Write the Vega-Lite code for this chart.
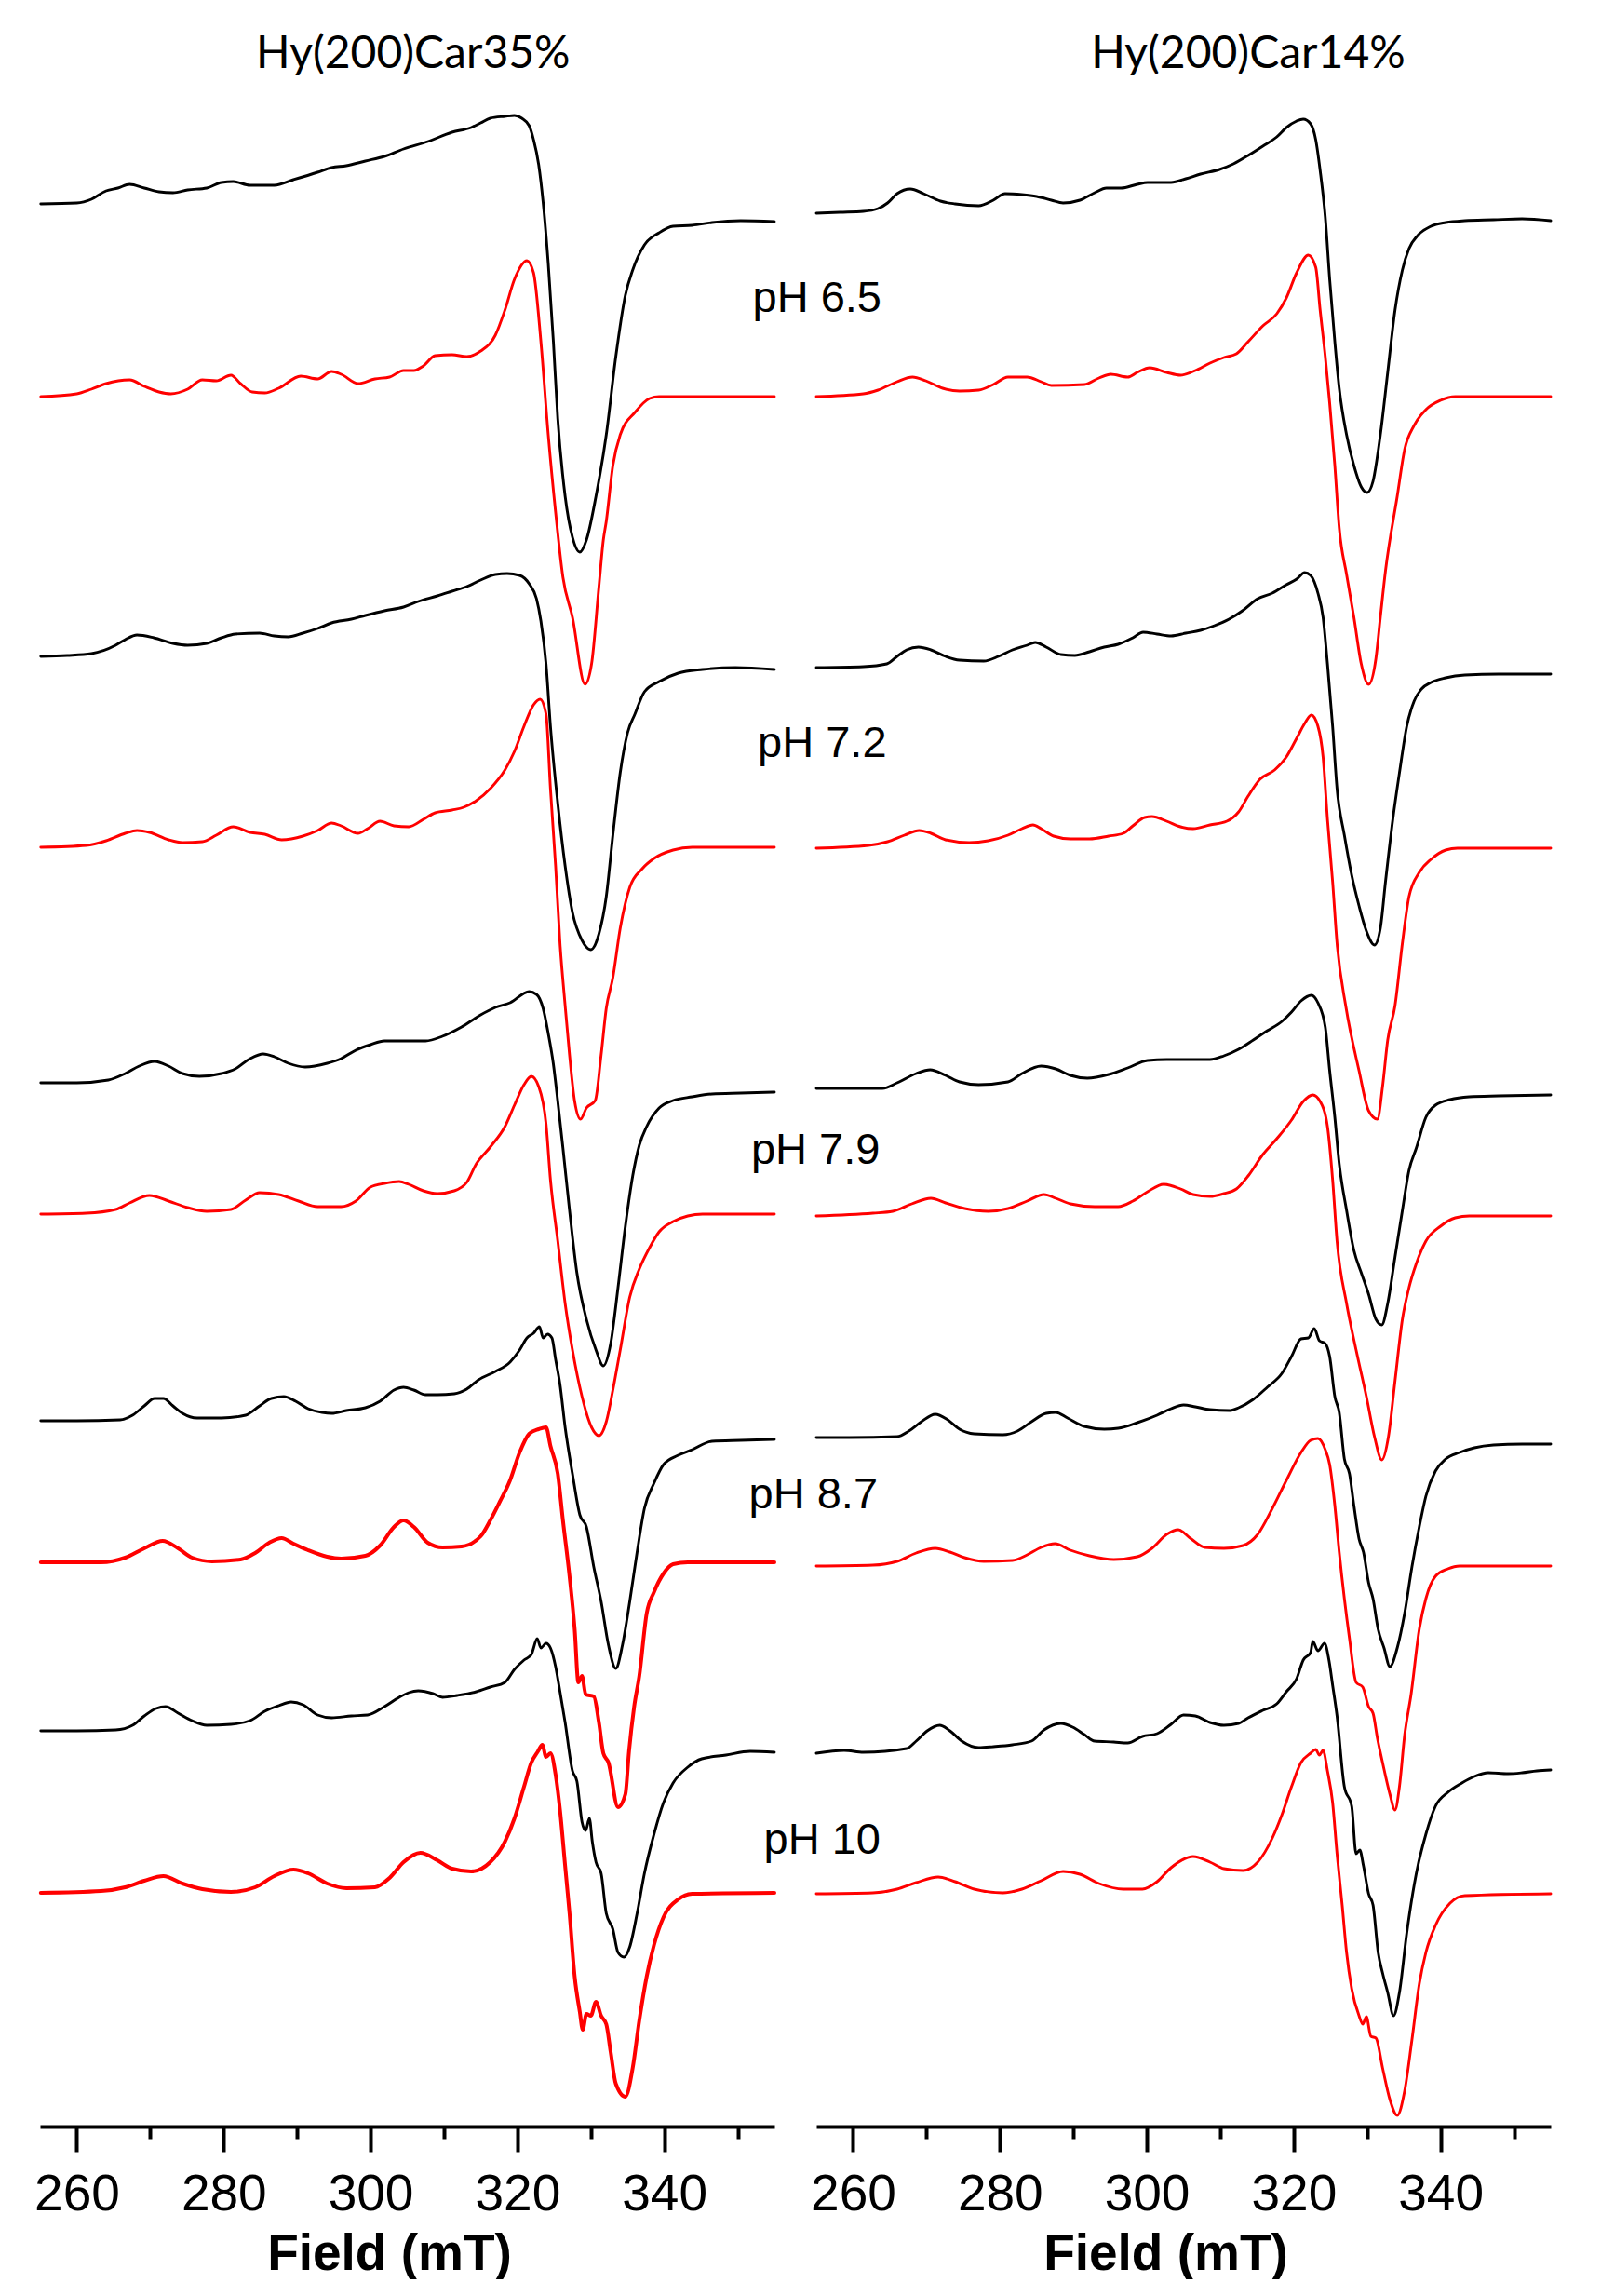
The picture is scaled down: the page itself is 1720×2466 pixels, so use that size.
{
"$schema":"https://vega.github.io/schema/vega-lite/v6.json",
"background":"white",
"padding":{"left":36,"top":0,"right":0,"bottom":0},
"autosize":{"type":"pad"},
"bounds":"flush",
"spacing":45,
"data":{"values":[
{"panel":"L","trace":"L1","kind":"exp","x":[255.1,260.0,262.0,264.0,265.6,267.2,269.2,271.2,273.1,275.1,277.7,279.7,281.3,283.6,286.9,289.5,292.8,294.7,296.7,299.3,301.9,304.5,307.8,311.1,313.7,315.0,316.3,318.3,319.6,320.6,321.6,322.2,322.9,323.5,324.2,324.9,325.5,326.5,327.5,328.5,329.4,330.7,332.1,333.4,334.7,335.7,337.3,339.3,341.2,343.8,346.5,350.4,355.0],"y":[2065,2066,2070,2079,2082,2086,2082,2078,2077,2080,2082,2088,2089,2085,2085,2091,2099,2104,2106,2111,2116,2124,2132,2142,2147,2152,2157,2159,2160,2157,2149,2134,2107,2067,2001,1917,1834,1751,1707,1691,1704,1751,1817,1901,1967,1994,2021,2034,2041,2042,2045,2047,2046]},
{"panel":"L","trace":"L2","kind":"sim","x":[255.1,260.0,262.0,264.0,267.2,269.2,271.2,272.8,275.1,277.1,279.0,281.0,282.3,283.9,285.6,287.5,290.5,292.8,294.7,296.0,298.3,300.6,302.6,304.5,305.9,307.2,308.8,311.1,313.1,315.0,317.0,318.3,319.6,321.3,322.2,323.2,324.2,325.2,326.2,327.5,329.2,330.1,331.1,331.7,332.1,333.0,334.0,336.0,338.0,339.3,355.0],"y":[1858,1861,1866,1872,1876,1869,1863,1861,1866,1876,1875,1881,1872,1863,1862,1867,1880,1877,1885,1882,1872,1877,1879,1886,1886,1891,1902,1903,1901,1907,1924,1951,1984,2004,1991,1917,1817,1734,1664,1621,1549,1571,1654,1704,1724,1784,1817,1841,1856,1858,1858]},
{"panel":"L","trace":"L3","kind":"exp","x":[255.1,258.7,262.0,265.3,266.6,268.2,270.5,273.1,275.1,277.7,279.7,281.6,284.9,286.9,288.8,290.8,292.8,294.7,297.4,299.3,301.9,304.5,306.5,309.1,311.1,313.1,315.0,317.0,318.6,320.3,321.6,322.6,323.2,323.9,324.5,325.5,326.5,327.5,328.8,330.0,331.1,332.1,333.0,334.0,335.0,336.0,337.3,339.3,341.9,345.2,349.7,355.0],"y":[1579,1580,1582,1591,1597,1602,1599,1593,1591,1593,1599,1603,1604,1601,1600,1604,1609,1615,1619,1623,1628,1632,1638,1644,1649,1654,1661,1667,1668,1666,1657,1641,1617,1571,1504,1421,1354,1304,1274,1264,1281,1321,1387,1454,1497,1517,1541,1552,1561,1565,1567,1565]},
{"panel":"L","trace":"L4","kind":"sim","x":[255.1,261.3,264.0,266.6,268.2,269.9,272.5,274.4,277.1,279.0,281.3,283.6,285.6,287.9,290.8,292.8,294.7,296.0,298.3,299.6,301.3,303.2,305.2,307.2,308.8,311.1,312.7,314.4,316.3,318.3,319.6,320.9,322.2,323.1,323.9,324.5,325.2,325.8,326.5,327.1,327.8,328.6,329.4,330.6,331.4,332.1,333.0,334.0,335.3,337.0,338.6,341.2,343.8,355.0],"y":[1374,1376,1381,1389,1392,1390,1382,1379,1380,1387,1396,1390,1388,1382,1386,1392,1400,1397,1389,1394,1402,1397,1396,1404,1411,1414,1417,1424,1437,1457,1477,1504,1527,1533,1517,1437,1354,1271,1204,1151,1101,1082,1094,1102,1151,1201,1234,1287,1331,1351,1362,1371,1374,1374]},
{"panel":"L","trace":"L5","kind":"exp","x":[255.1,260.0,264.3,266.6,268.5,270.6,272.5,274.4,276.7,279.7,281.6,283.6,285.4,286.9,288.8,291.1,294.1,296.0,298.0,300.0,301.9,307.5,309.8,312.4,315.0,317.0,319.0,321.6,322.6,323.5,324.2,324.9,325.5,326.2,327.1,328.1,329.4,330.7,331.7,332.7,333.7,334.7,335.7,336.6,337.6,339.3,341.2,343.8,346.5,350.4,355.0],"y":[1121,1121,1124,1131,1139,1144,1139,1131,1128,1131,1136,1147,1152,1149,1142,1138,1142,1147,1156,1162,1166,1166,1171,1181,1194,1202,1207,1219,1216,1201,1174,1141,1101,1051,984,917,867,834,817,841,901,967,1021,1054,1074,1094,1102,1106,1109,1110,1111]},
{"panel":"L","trace":"L6","kind":"sim","x":[255.1,261.3,265.3,267.2,269.9,272.5,275.1,277.7,281.0,283.0,284.9,287.5,290.2,292.8,296.0,298.0,300.0,301.9,303.9,305.2,307.2,309.1,311.4,313.1,314.4,316.3,318.3,319.6,320.9,321.9,322.9,323.9,324.5,325.5,326.5,327.5,328.8,330.1,331.1,332.1,333.0,334.0,335.3,336.6,338.0,339.3,341.2,343.2,345.2,355.0],"y":[980,981,985,992,1000,994,987,983,985,995,1003,1001,994,988,988,994,1009,1013,1015,1012,1005,1002,1005,1014,1034,1052,1074,1097,1119,1128,1117,1077,1017,951,884,834,784,751,742,757,791,834,891,921,944,961,972,978,980,980]},
{"panel":"L","trace":"L7","kind":"exp","x":[255.1,260.0,265.9,267.6,269.2,270.6,271.8,273.1,274.4,276.4,279.7,283.0,284.9,286.5,288.2,289.8,291.5,293.4,294.7,296.7,299.3,301.3,303.2,304.5,305.9,307.5,309.1,311.4,313.1,314.7,317.0,319.0,320.3,321.3,322.2,323.0,323.5,324.1,324.7,325.2,325.8,326.5,327.5,328.5,329.4,330.4,331.4,332.4,333.4,334.3,335.3,336.3,337.3,338.6,339.9,341.9,343.8,346.5,350.4,355.0],"y":[758,758,759,764,774,782,782,774,766,761,761,764,774,782,784,779,771,767,766,769,772,779,791,794,791,786,786,787,792,802,811,821,834,847,852,859,847,851,847,824,797,751,701,657,644,601,564,517,492,517,564,617,664,691,711,721,727,736,737,738]},
{"panel":"L","trace":"L8","kind":"sim","x":[255.1,263.3,266.6,269.2,271.7,273.8,275.7,278.4,282.3,284.3,286.2,287.9,289.5,291.5,294.1,296.0,299.3,301.3,303.2,304.5,305.9,307.8,309.8,312.4,315.0,316.3,317.6,319.0,320.3,321.6,322.9,323.9,324.5,325.5,326.2,327.1,327.8,328.3,328.8,329.3,330.4,331.1,331.7,332.4,333.7,334.7,335.2,335.9,336.6,337.6,338.6,339.9,341.2,343.2,355.0],"y":[606,606,611,621,629,621,611,607,609,616,627,632,626,619,612,610,613,624,644,651,644,627,622,623,634,651,671,694,724,744,749,751,731,701,651,591,534,477,484,464,462,434,401,391,343,357,403,451,484,551,574,594,604,606,606]},
{"panel":"L","trace":"L9","kind":"exp","x":[255.1,260.0,265.3,267.6,269.2,270.8,272.1,273.8,275.7,277.7,281.0,283.6,285.6,287.5,289.2,290.8,292.8,294.7,297.4,299.6,301.9,303.9,305.2,306.5,308.5,309.8,311.8,314.4,316.3,318.3,319.6,320.9,321.9,322.7,323.2,323.9,324.5,325.2,325.8,326.5,327.5,328.1,328.8,329.3,329.8,330.2,330.7,331.4,332.1,333.0,333.7,334.5,335.3,336.3,337.3,338.6,339.9,341.2,343.2,345.1,348.4,351.7,355.0],"y":[425,425,426,431,441,449,451,444,436,431,432,436,446,452,456,453,442,439,441,442,451,461,466,468,465,461,463,467,472,477,491,501,507,524,514,519,514,494,467,434,382,371,327,318,331,306,284,272,229,212,187,182,193,229,272,314,348,369,386,395,399,403,402]},
{"panel":"L","trace":"L10","kind":"sim","x":[255.1,263.3,266.6,269.2,271.8,274.4,277.1,281.0,284.3,286.9,289.5,291.5,294.1,296.7,300.6,302.6,304.5,306.8,309.1,311.1,313.7,316.3,318.3,319.6,320.9,321.9,322.8,323.4,323.9,324.5,325.2,325.8,326.5,327.1,327.8,328.5,328.9,329.4,330.0,330.7,331.4,332.1,332.7,333.4,334.7,335.7,336.6,337.6,338.6,339.9,341.9,343.8,355.0],"y":[251,253,257,264,269,261,255,252,257,269,276,272,261,256,257,267,284,294,286,277,274,284,306,331,365,391,403,410,397,401,378,340,280,229,161,123,104,121,119,134,119,110,80,46,32,63,114,161,195,225,244,250,251]},
{"panel":"R","trace":"R1","kind":"exp","x":[255.0,258.2,261.4,263.4,264.7,266.0,267.8,269.6,271.9,273.9,277.1,279.1,280.7,283.0,285.0,287.0,288.6,290.9,292.9,294.5,296.5,298.7,300.1,303.3,305.3,307.3,309.9,311.8,313.8,315.8,317.7,319.0,320.4,321.3,322.3,323.0,323.6,324.3,324.9,325.6,326.2,327.2,328.2,329.2,330.0,330.8,331.8,332.8,333.8,334.8,335.7,337.0,338.7,340.7,343.3,347.2,351.1,355.0],"y":[2055,2056,2057,2060,2066,2076,2081,2076,2068,2065,2063,2069,2076,2075,2073,2069,2066,2069,2077,2082,2082,2086,2088,2088,2092,2097,2102,2108,2117,2127,2137,2147,2154,2156,2151,2134,2101,2051,1984,1917,1867,1817,1784,1761,1755,1767,1817,1884,1951,1994,2017,2032,2041,2045,2047,2048,2049,2047]},
{"panel":"R","trace":"R2","kind":"sim","x":[255.0,261.4,263.4,266.0,268.1,269.9,272.2,274.5,277.1,279.1,281.1,283.7,285.6,287.0,291.5,293.5,295.1,297.4,298.7,300.4,302.7,304.6,306.6,308.6,310.5,312.2,313.8,315.8,317.7,319.0,320.4,322.0,323.0,323.6,324.3,324.9,325.6,326.2,327.2,328.2,329.2,330.2,331.2,331.8,332.5,334.1,335.1,336.4,338.0,340.0,342.0,355.0],"y":[1858,1861,1865,1874,1879,1875,1867,1864,1865,1871,1879,1879,1874,1870,1871,1878,1882,1879,1884,1889,1884,1881,1886,1894,1900,1904,1917,1934,1947,1964,1991,2010,1997,1951,1901,1851,1784,1717,1667,1621,1571,1549,1577,1621,1671,1751,1801,1827,1844,1854,1858,1858]},
{"panel":"R","trace":"R3","kind":"exp","x":[255.0,261.4,264.6,266.0,267.3,268.9,270.6,272.6,274.5,277.8,279.8,281.7,283.7,284.8,286.3,288.3,290.2,292.2,294.2,296.1,298.1,299.5,301.4,303.3,305.3,307.3,309.2,311.2,313.2,315.1,317.1,319.0,320.4,321.5,322.3,323.3,324.0,324.6,325.3,325.9,326.9,327.9,328.9,329.9,331.0,331.8,332.5,333.5,334.4,335.4,336.4,337.4,338.7,340.7,343.3,347.9,355.0],"y":[1567,1568,1571,1579,1586,1589,1586,1579,1575,1574,1579,1586,1591,1594,1589,1581,1580,1584,1589,1592,1599,1605,1603,1601,1604,1607,1612,1619,1629,1641,1647,1656,1662,1669,1666,1647,1621,1571,1504,1437,1387,1344,1311,1284,1269,1287,1337,1404,1454,1504,1531,1544,1551,1556,1559,1560,1560]},
{"panel":"R","trace":"R4","kind":"sim","x":[255.0,262.1,264.7,267.0,269.0,270.6,272.6,275.8,278.4,281.1,283.0,284.5,285.6,287.3,289.6,292.2,294.8,296.8,298.1,299.7,300.7,302.7,304.6,306.3,308.6,310.9,312.5,313.8,315.4,317.4,319.0,320.4,321.5,322.4,323.3,324.0,324.6,325.3,325.9,327.1,328.9,330.2,331.4,332.1,332.8,333.8,334.8,335.7,337.1,338.7,340.7,342.3,355.0],"y":[1373,1376,1380,1387,1392,1389,1382,1379,1381,1387,1394,1398,1394,1386,1383,1383,1386,1389,1397,1406,1407,1402,1396,1394,1398,1402,1412,1429,1447,1457,1471,1491,1507,1516,1504,1471,1404,1337,1271,1203,1134,1091,1082,1117,1167,1204,1271,1321,1347,1361,1371,1373,1373]},
{"panel":"R","trace":"R5","kind":"exp","x":[255.0,264.0,266.0,268.6,270.5,272.6,274.5,277.1,281.1,283.0,285.6,287.6,289.6,291.9,294.8,297.4,300.1,302.7,308.6,310.5,312.5,314.5,316.4,318.4,319.7,321.0,322.4,323.3,324.3,324.9,325.6,326.2,327.2,328.2,329.2,330.2,331.2,332.0,332.8,333.8,334.8,335.7,336.7,338.0,339.3,341.3,343.9,347.9,355.0],"y":[1115,1115,1121,1131,1135,1129,1122,1119,1122,1131,1139,1136,1129,1126,1130,1137,1145,1146,1146,1150,1157,1167,1177,1187,1197,1209,1215,1207,1181,1134,1084,1034,984,941,917,894,867,861,884,934,984,1027,1051,1084,1097,1103,1106,1107,1108]},
{"panel":"R","trace":"R6","kind":"sim","x":[255.0,262.7,265.4,268.0,270.6,272.6,275.2,278.4,281.1,283.7,286.0,287.6,289.6,292.9,296.1,298.1,300.1,302.3,304.6,306.3,308.6,310.5,312.2,313.8,315.8,317.7,319.7,321.3,322.6,323.6,324.6,325.3,325.9,327.2,328.5,329.9,331.0,332.0,332.9,333.8,334.8,335.7,336.7,338.0,340.0,342.0,343.9,355.0],"y":[978,981,983,991,997,992,986,983,986,994,1001,997,991,988,988,994,1004,1012,1007,1001,999,1002,1007,1021,1044,1061,1081,1101,1108,1101,1074,1017,951,884,834,784,741,716,741,801,867,901,927,951,967,976,978,978]},
{"panel":"R","trace":"R7","kind":"exp","x":[255.0,259.5,266.0,267.6,269.3,271.2,272.9,274.5,276.5,280.4,282.4,284.3,286.3,287.6,289.2,291.5,294.2,296.1,298.7,301.4,303.3,305.0,306.6,308.6,311.2,312.5,314.5,316.4,318.4,319.7,321.0,322.0,322.8,323.5,324.3,324.9,325.6,326.2,326.9,327.6,328.2,328.9,329.5,330.2,330.8,331.5,332.3,333.1,334.1,335.1,336.1,337.1,338.0,339.3,340.7,342.6,344.6,347.2,351.1,355.0],"y":[740,740,741,747,757,765,759,749,744,743,747,757,766,767,761,752,749,750,756,764,771,775,773,770,769,772,781,794,809,827,846,847,857,844,841,827,784,767,717,701,667,631,617,584,567,534,514,494,514,551,601,644,677,704,717,724,729,732,733,733]},
{"panel":"R","trace":"R8","kind":"sim","x":[255.0,262.7,266.0,268.6,271.2,273.2,275.2,277.8,281.7,283.7,285.6,287.5,289.6,292.2,295.5,298.7,300.7,302.7,304.3,305.9,307.9,310.5,313.1,315.1,317.1,319.0,321.0,322.3,323.3,324.3,324.9,325.6,326.2,326.9,327.6,328.5,329.4,330.2,330.8,331.4,332.1,333.1,333.8,334.4,335.1,336.0,337.1,338.0,339.3,341.0,342.6,355.0],"y":[602,603,607,616,621,617,611,607,608,614,622,626,619,613,609,612,621,636,641,632,622,621,624,636,664,694,724,737,739,727,711,667,617,567,524,477,472,451,444,417,391,357,340,365,420,465,534,567,591,599,602,602]},
{"panel":"R","trace":"R9","kind":"exp","x":[255.0,258.8,261.4,267.3,268.6,270.1,271.8,273.2,274.8,277.1,279.1,281.7,284.3,286.0,288.3,289.9,291.5,292.9,295.5,297.4,299.4,301.4,303.3,305.0,306.6,308.6,310.5,312.5,313.8,315.8,317.7,319.0,320.4,321.3,322.3,322.6,323.3,324.2,324.8,325.3,325.9,326.9,327.9,328.5,329.0,329.5,330.2,330.8,331.5,332.1,332.8,333.6,334.4,335.4,336.7,338.0,339.3,341.0,342.9,344.6,346.5,349.2,351.1,353.1,355.0],"y":[401,404,402,406,414,425,431,425,414,407,408,410,414,426,433,429,421,414,413,412,419,422,432,442,441,434,431,433,439,447,454,467,481,501,509,521,511,519,501,474,441,365,344,293,297,280,250,238,187,165,144,119,144,208,272,314,344,359,369,376,380,379,380,382,383]},
{"panel":"R","trace":"R10","kind":"sim","x":[255.0,262.7,266.0,268.6,271.6,273.9,276.5,280.4,283.0,285.6,288.6,290.9,293.5,296.8,299.4,301.4,303.3,306.3,308.6,310.5,313.1,315.1,317.1,318.4,319.7,321.0,322.3,323.0,323.5,324.0,324.6,325.3,325.9,326.6,327.2,327.9,328.9,329.4,329.9,330.5,331.2,332.1,333.1,334.1,335.1,336.1,337.1,338.0,339.3,341.3,343.3,355.0],"y":[250,251,255,262,268,263,255,251,255,264,274,271,261,255,255,263,278,290,284,277,275,284,310,335,365,391,401,405,399,404,382,348,293,238,187,148,119,110,118,97,95,63,29,12,38,93,153,187,216,240,248,250]},
{"panel":"L","kind":"title","label":"Hy(200)Car35%","lx":305.8,"ly":2211},
{"panel":"R","kind":"title","label":"Hy(200)Car14%","lx":313.8,"ly":2211},
{"panel":"L","kind":"ph","label":"pH 6.5","lx":360.8,"ly":1949},
{"panel":"L","kind":"ph","label":"pH 7.2","lx":361.5,"ly":1471},
{"panel":"L","kind":"ph","label":"pH 7.9","lx":360.6,"ly":1034},
{"panel":"L","kind":"ph","label":"pH 8.7","lx":360.3,"ly":664},
{"panel":"L","kind":"ph","label":"pH 10","lx":361.5,"ly":293}
]},
"facet":{"column":{"field":"panel","type":"nominal","header":null}},
"spec":{
"width":789,"height":2284,
"layer":[
{"transform":[{"filter":"datum.kind == 'exp' || datum.kind == 'sim'"},{"flatten":["x","y"]}],
"mark":{"type":"line","interpolate":"monotone","strokeJoin":"round","strokeCap":"round"},
"encoding":{
"x":{"field":"x","type":"quantitative","scale":{"domain":[255,355],"nice":false,"zero":false},
"axis":{"values":[260,270,280,290,300,310,320,330,340,350],
"labelExpr":"datum.value % 20 == 0 ? datum.label : ''",
"tickSize":{"condition":{"test":"datum.value % 20 == 0","value":27},"value":13},
"tickWidth":4,"tickColor":"black","domainColor":"black","domainWidth":4,
"labelFont":"Liberation Sans","labelFontSize":55,"labelColor":"black","labelBaseline":"alphabetic","labelPadding":62,"labelFlush":false,"labelOverlap":false,
"grid":false,
"title":"Field (mT)","titleFont":"Liberation Sans","titleFontSize":55,"titleFontWeight":"bold","titleColor":"black","titleX":375,"titleY":153,"titleBaseline":"alphabetic","titleAlign":"center"}},
"y":{"field":"y","type":"quantitative","scale":{"domain":[0,2284],"nice":false,"zero":false},"axis":null},
"detail":{"field":"trace","type":"nominal"},
"color":{"field":"kind","type":"nominal","scale":{"domain":["exp","sim"],"range":["#000000","#ff0000"]},"legend":null},
"strokeWidth":{"condition":{"test":"datum.trace == 'L8' || datum.trace == 'L10'","value":4},"value":2.9}
}},
{"transform":[{"filter":"datum.kind == 'title'"}],
"mark":{"type":"text","font":"Lato","fontSize":48,"align":"center","baseline":"alphabetic","color":"black"},
"encoding":{"x":{"field":"lx","type":"quantitative","scale":{"domain":[255,355],"nice":false,"zero":false}},"y":{"field":"ly","type":"quantitative","scale":{"domain":[0,2284],"nice":false,"zero":false}},"text":{"field":"label"}}},
{"transform":[{"filter":"datum.kind == 'ph'"}],
"mark":{"type":"text","font":"Liberation Sans","fontSize":47,"align":"center","baseline":"alphabetic","color":"black"},
"encoding":{"x":{"field":"lx","type":"quantitative","scale":{"domain":[255,355],"nice":false,"zero":false}},"y":{"field":"ly","type":"quantitative","scale":{"domain":[0,2284],"nice":false,"zero":false}},"text":{"field":"label"}}}
]},
"config":{"view":{"stroke":null}}
}
